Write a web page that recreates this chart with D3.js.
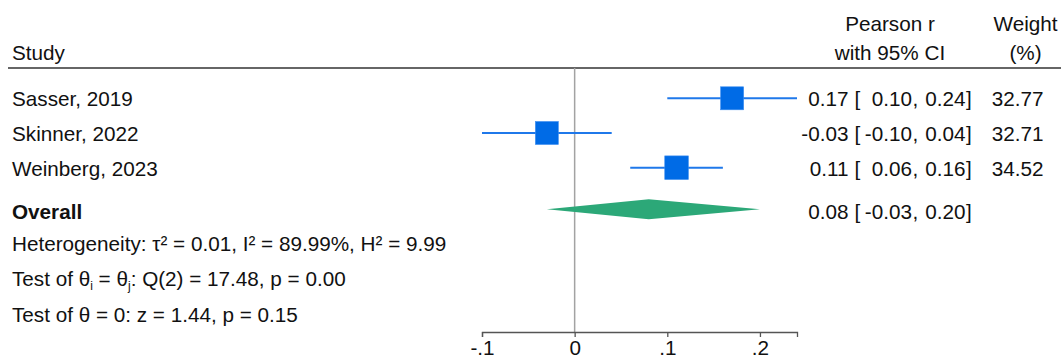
<!DOCTYPE html>
<html>
<head>
<meta charset="utf-8">
<script src="https://cdn.jsdelivr.net/npm/d3@7"></script>
<style>
  html, body { margin: 0; padding: 0; background: #fff; }
  svg text { font-family: "Liberation Sans", Arial, Helvetica, sans-serif; fill: #111; }
</style>
</head>
<body>
<svg id="chart" width="1061" height="360"></svg>
<script>
// Study-level results (Pearson r with 95% CI) and random-effects weights
const studies   = ["Sasser, 2019", "Skinner, 2022", "Weinberg, 2023"];
const estimates = [0.17, -0.03, 0.11];
const ciLower   = [0.10, -0.10, 0.06];
const ciUpper   = [0.24, 0.04, 0.16];
const weights   = [32.77, 32.71, 34.52];

// Pooled estimate
const overallEst   = 0.08;
const overallLower = -0.03;
const overallUpper = 0.20;

// Axis ticks
const tickValues = [-0.1, 0, 0.1, 0.2];
const tickLabels = ["-.1", "0", ".1", ".2"];

// two decimals, plain hyphen for negatives
const fmt = v => d3.format(".2f")(v).replace("\u2212", "-");
const svg = d3.select("#chart");
const FS = 20.7;

const x = d3.scaleLinear().domain([-0.1, 0.24]).range([482, 797]);
const y = d3.scalePoint().domain(studies).range([98.3, 167.7]);
const overallY = 209.3;
const side = d3.scaleSqrt().domain([0, 34.52]).range([0, 23.6]);

const axisY = 332;
const ruleY = 68;

// header
svg.append("text").attr("x", 12).attr("y", 60).attr("font-size", FS).text("Study");
svg.append("text").attr("x", 890).attr("y", 31).attr("font-size", FS).attr("text-anchor", "middle").text("Pearson r");
svg.append("text").attr("x", 890).attr("y", 60).attr("font-size", FS).attr("text-anchor", "middle").text("with 95% CI");
svg.append("text").attr("x", 1025.5).attr("y", 31).attr("font-size", FS).attr("text-anchor", "middle").text("Weight");
svg.append("text").attr("x", 1025.5).attr("y", 60).attr("font-size", FS).attr("text-anchor", "middle").text("(%)");
svg.append("line").attr("x1", 8).attr("x2", 1061).attr("y1", ruleY).attr("y2", ruleY)
  .attr("stroke", "#333").attr("stroke-width", 1.5);

// no-effect reference line
svg.append("line").attr("x1", x(0)).attr("x2", x(0)).attr("y1", ruleY).attr("y2", axisY)
  .attr("stroke", "#a3a3a3").attr("stroke-width", 1.5);

// x axis
const axis = d3.axisBottom(x).tickValues(tickValues)
  .tickFormat((d, i) => tickLabels[i]).tickSizeOuter(0).tickSize(5).tickPadding(3);
const gAxis = svg.append("g").attr("transform", `translate(0,${axisY})`).call(axis);
gAxis.select(".domain").attr("stroke", "#555").attr("stroke-width", 1.3);
gAxis.selectAll(".tick line").attr("stroke", "#555").attr("stroke-width", 1.3);
gAxis.selectAll(".tick text").attr("font-size", FS)
  .attr("font-family", "'Liberation Sans', Arial, Helvetica, sans-serif").attr("fill", "#111");

// study rows
const rows = studies.map((s, i) => ({ s, est: estimates[i], lo: ciLower[i], hi: ciUpper[i], w: weights[i] }));
const g = svg.append("g");
g.selectAll("line.ci").data(rows).join("line").attr("class", "ci")
  .attr("x1", d => x(d.lo)).attr("x2", d => x(d.hi))
  .attr("y1", d => y(d.s)).attr("y2", d => y(d.s))
  .attr("stroke", "#1f78ea").attr("stroke-width", 2);
g.selectAll("rect.box").data(rows).join("rect").attr("class", "box")
  .attr("x", d => x(d.est) - side(d.w) / 2).attr("y", d => y(d.s) - side(d.w) / 2)
  .attr("width", d => side(d.w)).attr("height", d => side(d.w))
  .attr("fill", "#006be6").attr("stroke", "#3a8cf0").attr("stroke-width", 0.6);

g.selectAll("text.study").data(rows).join("text").attr("class", "study")
  .attr("x", 12).attr("y", d => y(d.s) + 8).attr("font-size", FS).text(d => d.s);

// estimate [lower, upper] columns
function ciText(yy, est, lo, hi) {
  const gg = svg.append("g").attr("font-size", FS);
  gg.append("text").attr("x", 848.5).attr("y", yy).attr("text-anchor", "end").text(fmt(est));
  gg.append("text").attr("x", 854.5).attr("y", yy).text("[");
  gg.append("text").attr("x", 912).attr("y", yy).attr("text-anchor", "end").text(fmt(lo));
  gg.append("text").attr("x", 912.5).attr("y", yy).text(",");
  gg.append("text").attr("x", 965.5).attr("y", yy).attr("text-anchor", "end").text(fmt(hi));
  gg.append("text").attr("x", 966).attr("y", yy).text("]");
}
rows.forEach(d => ciText(y(d.s) + 8, d.est, d.lo, d.hi));
svg.selectAll("text.wt").data(rows).join("text").attr("class", "wt")
  .attr("x", 1043.5).attr("y", d => y(d.s) + 8).attr("font-size", FS)
  .attr("text-anchor", "end").text(d => fmt(d.w));

// overall diamond
const dh = 10;
svg.append("path")
  .attr("d", `M${x(overallLower)},${overallY} L${x(overallEst)},${overallY - dh} L${x(overallUpper)},${overallY} L${x(overallEst)},${overallY + dh} Z`)
  .attr("fill", "#2ca878");
svg.append("text").attr("x", 12).attr("y", 219).attr("font-size", FS).attr("font-weight", "bold").text("Overall");
ciText(219, overallEst, overallLower, overallUpper);

// heterogeneity and tests
svg.append("text").attr("x", 12).attr("y", 251).attr("font-size", FS)
  .text("Heterogeneity: τ² = 0.01, I² = 89.99%, H² = 9.99");
const t2 = svg.append("text").attr("x", 12).attr("y", 286).attr("font-size", FS);
t2.append("tspan").text("Test of θ");
t2.append("tspan").attr("font-size", 12).attr("dy", 4).text("i");
t2.append("tspan").attr("dy", -4).text(" = θ");
t2.append("tspan").attr("font-size", 12).attr("dy", 4).text("j");
t2.append("tspan").attr("dy", -4).text(": Q(2) = 17.48, p = 0.00");
svg.append("text").attr("x", 12).attr("y", 322).attr("font-size", FS)
  .text("Test of θ = 0: z = 1.44, p = 0.15");
</script>
</body>
</html>
